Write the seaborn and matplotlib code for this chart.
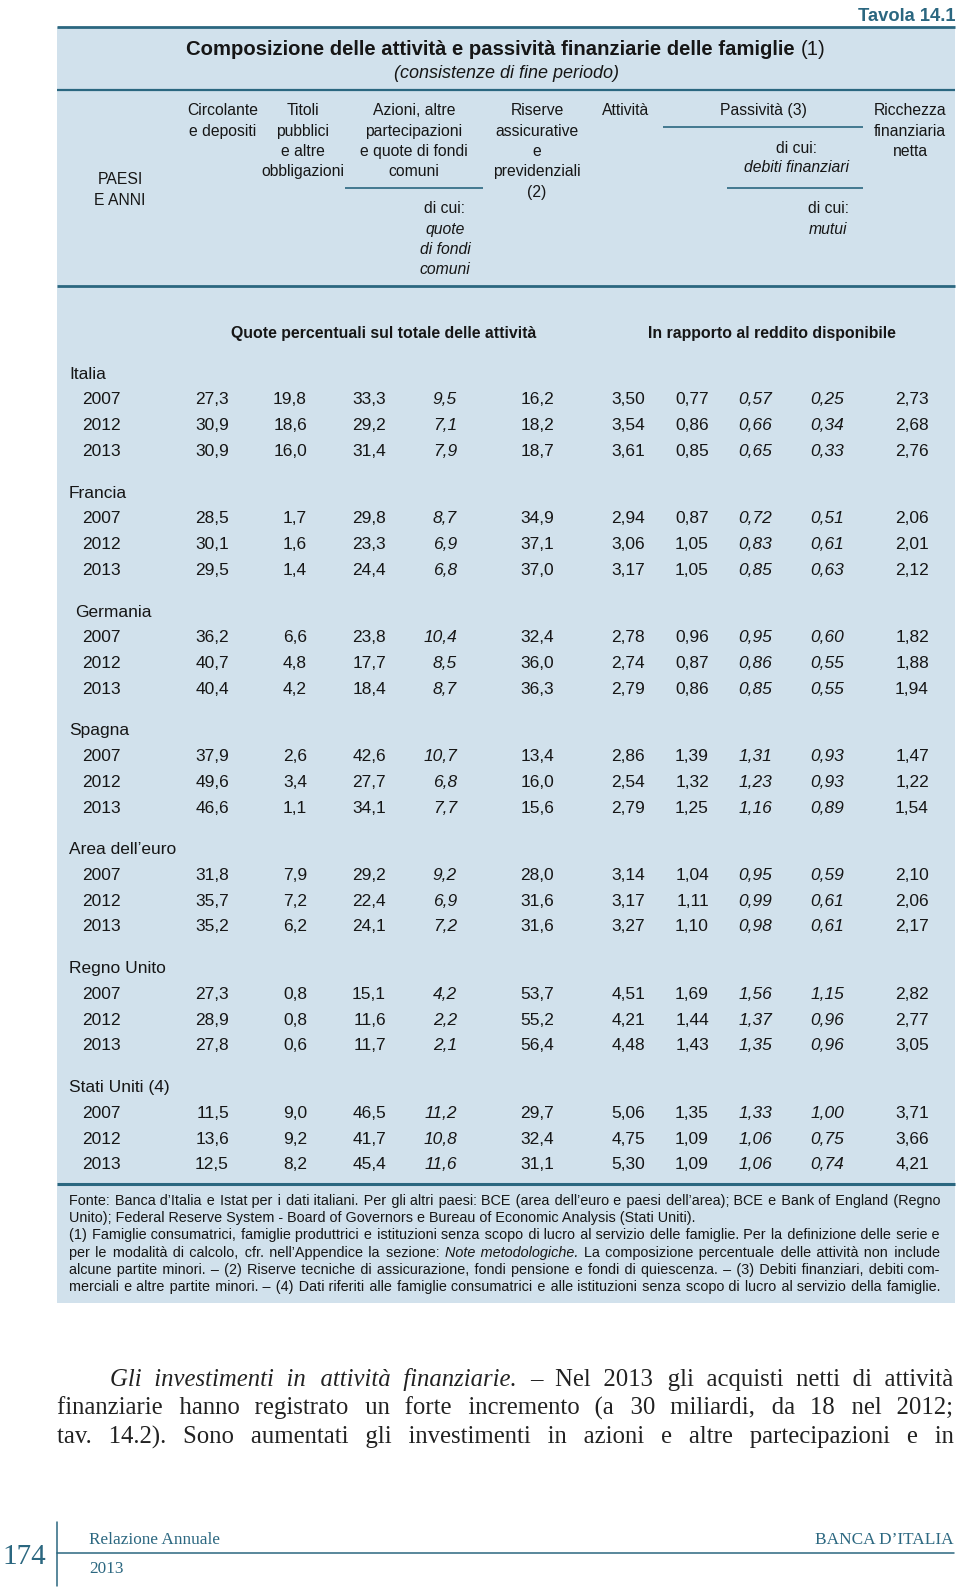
import matplotlib
matplotlib.use("Agg")
import matplotlib.pyplot as plt
from matplotlib import font_manager
from matplotlib.patches import Rectangle
import seaborn as sns
import pandas as pd

# ---- data ----
countries = ["Italia", "Francia", "Germania", "Spagna", "Area dell’euro", "Regno Unito", "Stati Uniti (4)"]
years = ["2007", "2012", "2013"]

circolante = [[27.3, 30.9, 30.9], [28.5, 30.1, 29.5], [36.2, 40.7, 40.4], [37.9, 49.6, 46.6],
              [31.8, 35.7, 35.2], [27.3, 28.9, 27.8], [11.5, 13.6, 12.5]]
titoli = [[19.8, 18.6, 16.0], [1.7, 1.6, 1.4], [6.6, 4.8, 4.2], [2.6, 3.4, 1.1],
          [7.9, 7.2, 6.2], [0.8, 0.8, 0.6], [9.0, 9.2, 8.2]]
azioni = [[33.3, 29.2, 31.4], [29.8, 23.3, 24.4], [23.8, 17.7, 18.4], [42.6, 27.7, 34.1],
          [29.2, 22.4, 24.1], [15.1, 11.6, 11.7], [46.5, 41.7, 45.4]]
quote_fondi = [[9.5, 7.1, 7.9], [8.7, 6.9, 6.8], [10.4, 8.5, 8.7], [10.7, 6.8, 7.7],
               [9.2, 6.9, 7.2], [4.2, 2.2, 2.1], [11.2, 10.8, 11.6]]
riserve = [[16.2, 18.2, 18.7], [34.9, 37.1, 37.0], [32.4, 36.0, 36.3], [13.4, 16.0, 15.6],
           [28.0, 31.6, 31.6], [53.7, 55.2, 56.4], [29.7, 32.4, 31.1]]
attivita = [[3.50, 3.54, 3.61], [2.94, 3.06, 3.17], [2.78, 2.74, 2.79], [2.86, 2.54, 2.79],
            [3.14, 3.17, 3.27], [4.51, 4.21, 4.48], [5.06, 4.75, 5.30]]
passivita = [[0.77, 0.86, 0.85], [0.87, 1.05, 1.05], [0.96, 0.87, 0.86], [1.39, 1.32, 1.25],
             [1.04, 1.11, 1.10], [1.69, 1.44, 1.43], [1.35, 1.09, 1.09]]
debiti = [[0.57, 0.66, 0.65], [0.72, 0.83, 0.85], [0.95, 0.86, 0.85], [1.31, 1.23, 1.16],
          [0.95, 0.99, 0.98], [1.56, 1.37, 1.35], [1.33, 1.06, 1.06]]
mutui = [[0.25, 0.34, 0.33], [0.51, 0.61, 0.63], [0.60, 0.55, 0.55], [0.93, 0.93, 0.89],
         [0.59, 0.61, 0.61], [1.15, 0.96, 0.96], [1.00, 0.75, 0.74]]
ricchezza = [[2.73, 2.68, 2.76], [2.06, 2.01, 2.12], [1.82, 1.88, 1.94], [1.47, 1.22, 1.54],
             [2.10, 2.06, 2.17], [2.82, 2.77, 3.05], [3.71, 3.66, 4.21]]

series = [("circolante", circolante, 1, False), ("titoli", titoli, 1, False),
          ("azioni", azioni, 1, False), ("quote_fondi", quote_fondi, 1, True),
          ("riserve", riserve, 1, False), ("attivita", attivita, 2, False),
          ("passivita", passivita, 2, False), ("debiti", debiti, 2, True),
          ("mutui", mutui, 2, True), ("ricchezza", ricchezza, 2, False)]

rows = []
for name, vals, dec, ital in series:
    for i, c in enumerate(countries):
        for j, y in enumerate(years):
            rows.append({"country": c, "year": y, "col": name, "value": vals[i][j],
                         "dec": dec, "italic": ital})
df = pd.DataFrame(rows)

# ---- style ----
sns.set_theme(style="white")
names = {f.name for f in font_manager.fontManager.ttflist}
SANS = ["Liberation Sans Narrow" if "Liberation Sans Narrow" in names else "Liberation Sans", "DejaVu Sans"]
SERIF = ["Liberation Serif", "DejaVu Serif"]
plt.rcParams["font.family"] = SANS

BG = "#d1e1ec"
TEAL = "#2b6780"
INK = "#161616"
HAIR = "\u200a"

fig = plt.figure(figsize=(9.6, 15.9), dpi=100)
ax = fig.add_axes([0, 0, 1, 1])
ax.set_xlim(0, 960)
ax.set_ylim(1590, 0)
ax.axis("off")
fig.canvas.draw()
renderer = fig.canvas.get_renderer()

PX = 100 / 72


def put(x, y, s, size=12.5, ha="left", weight="normal", style="normal", color=INK, family=None):
    ax.text(x, y + 0.36 * size * PX, s, ha=ha, va="baseline", fontsize=size,
            fontweight=weight, fontstyle=style, color=color, family=family or SANS)


def width(s, size, weight="normal", style="normal", family=None):
    t = ax.text(0, 0, s, fontsize=size, fontweight=weight, fontstyle=style, family=family or SANS)
    w = t.get_window_extent(renderer).width
    t.remove()
    return w


def line(runs, x0, x1, y, size, family=None, color=INK, mode="justify"):
    # one text per run; justified by padding the spaces with hair spaces
    family = family or SANS
    avail = x1 - x0

    def measure(sz):
        ws = [width(t, sz, wt, st, family) for t, wt, st in runs]
        sp = width("a a", sz, family=family) - width("aa", sz, family=family)
        return ws, sp, sum(ws) + sp * (len(runs) - 1)

    ws, sp, nat = measure(size)
    if mode == "center":
        x = (x0 + x1) / 2 - nat / 2
        for (t, wt, st), wd in zip(runs, ws):
            put(x, y, t, size=size, weight=wt, style=st, color=color, family=family)
            x += wd + sp
        return
    for _ in range(3):
        if nat <= avail:
            break
        size *= avail / nat * 0.999
        ws, sp, nat = measure(size)
    texts = [t for t, _, _ in runs]
    inter = 0.0
    if mode == "justify":
        hair = (width("a" + HAIR * 20 + "a", size, family=family) - width("aa", size, family=family)) / 20
        ngaps = sum(t.count(" ") for t in texts) + len(runs) - 1
        extra = (avail - nat) / max(ngaps, 1)
        inter = extra
        if hair > 0.05:
            acc = 0.0
            new = []
            for t in texts:
                parts = t.split(" ")
                out = parts[0]
                for p in parts[1:]:
                    acc += extra / hair
                    n = int(round(acc))
                    acc -= n
                    out += " " + HAIR * n + p
                new.append(out)
            texts = new
    x = x0
    for t, (_, wt, st) in zip(texts, runs):
        put(x, y, t, size=size, weight=wt, style=st, color=color, family=family)
        x += width(t, size, wt, st, family) + sp + inter


# ---- panel ----
ax.add_patch(Rectangle((57, 27), 898, 1276, facecolor=BG, edgecolor="none", zorder=0))
for y, lw in [(27, 2.0), (90, 1.6), (286, 2.0), (1184, 2.2)]:
    ax.plot([57, 955], [y, y], color=TEAL, lw=lw, solid_capstyle="butt")
for x0, x1, y in [(345, 483, 188), (663, 863, 127), (727, 863, 188)]:
    ax.plot([x0, x1], [y, y], color=TEAL, lw=1.2, solid_capstyle="butt")

put(955, 14, "Tavola 14.1", size=13.2, ha="right", weight="bold", color=TEAL)
line([("Composizione delle attività e passività finanziarie delle famiglie", "bold", "normal"),
      ("(1)", "normal", "normal")], 57, 955, 48, 14.6, mode="center")
put(506, 71, "(consistenze di fine periodo)", size=13, ha="center", style="italic")

# ---- column headers ----
HS = 11.3
hy = [109, 130, 150, 170, 191, 207, 228, 248, 268]
headers = [
    (223, ["Circolante", "e depositi"]),
    (303, ["Titoli", "pubblici", "e altre", "obbligazioni"]),
    (414, ["Azioni, altre", "partecipazioni", "e quote di fondi", "comuni"]),
    (537, ["Riserve", "assicurative", "e", "previdenziali", "(2)"]),
    (626, ["Attività"]),
    (763, ["Passività (3)"]),
    (910, ["Ricchezza", "finanziaria", "netta"]),
]
for x, lines in headers:
    for k, s in enumerate(lines):
        put(x, hy[k], s, size=HS, ha="center")
put(445, 207, "di cui:", size=HS, ha="center")
for k, s in enumerate(["quote", "di fondi", "comuni"]):
    put(445, hy[6 + k], s, size=HS, ha="center", style="italic")
put(796, 147, "di cui:", size=HS, ha="center")
put(796, 166, "debiti finanziari", size=HS, ha="center", style="italic")
put(828, 207, "di cui:", size=HS, ha="center")
put(828, 228, "mutui", size=HS, ha="center", style="italic")
put(120, 178, "PAESI", size=HS, ha="center")
put(120, 199, "E ANNI", size=HS, ha="center")

put(384, 332, "Quote percentuali sul totale delle attività", size=11.4, ha="center", weight="bold")
put(772, 332, "In rapporto al reddito disponibile", size=11.4, ha="center", weight="bold")

# ---- body of table ----
col_right = dict(zip([s[0] for s in series], [229, 307, 386, 457, 554, 645, 709, 772, 844, 929]))
label_x = {"Germania": 75}
g0, gstep, rstep = 372.5, 118.9, 25.7
for i, c in enumerate(countries):
    gy = g0 + i * gstep
    put(label_x.get(c, 69), gy, c)
    for j, yr in enumerate(years):
        put(82, gy + rstep * (j + 1), yr)
for _, r in df.iterrows():
    i = countries.index(r["country"])
    j = years.index(r["year"])
    y = g0 + i * gstep + rstep * (j + 1)
    txt = f"{r['value']:.{r['dec']}f}".replace(".", ",")
    put(col_right[r["col"]], y, txt, ha="right", style="italic" if r["italic"] else "normal")

# ---- notes ----
N = "normal"
notes = [
    ([("Fonte: Banca d’Italia e Istat per i dati italiani. Per gli altri paesi: BCE (area dell’euro e paesi dell’area); BCE e Bank of England (Regno", N, N)], "justify"),
    ([("Unito); Federal Reserve System - Board of Governors e Bureau of Economic Analysis (Stati Uniti).", N, N)], "left"),
    ([("(1) Famiglie consumatrici, famiglie produttrici e istituzioni senza scopo di lucro al servizio delle famiglie. Per la definizione delle serie e", N, N)], "justify"),
    ([("per le modalità di calcolo, cfr. nell’Appendice la sezione:", N, N), ("Note metodologiche.", N, "italic"),
      ("La composizione percentuale delle attività non include", N, N)], "justify"),
    ([("alcune partite minori. – (2) Riserve tecniche di assicurazione, fondi pensione e fondi di quiescenza. – (3) Debiti finanziari, debiti com-", N, N)], "justify"),
    ([("merciali e altre partite minori. – (4) Dati riferiti alle famiglie consumatrici e alle istituzioni senza scopo di lucro al servizio della famiglie.", N, N)], "justify"),
]
for k, (runs, mode) in enumerate(notes):
    line(runs, 69, 940, 1200 + k * 17.1, 10.4, mode=mode)

# ---- running text ----
body = [
    ([("Gli investimenti in attività finanziarie.", N, "italic"),
      ("– Nel 2013 gli acquisti netti di attività", N, N)], 110),
    ([("finanziarie hanno registrato un forte incremento (a 30 miliardi, da 18 nel 2012;", N, N)], 57),
    ([("tav. 14.2). Sono aumentati gli investimenti in azioni e altre partecipazioni e in", N, N)], 57),
]
for k, (runs, x0) in enumerate(body):
    line(runs, x0, 954, 1377 + k * 28.7, 17.8, family=SERIF, color="#222222")

# ---- page footer ----
ax.plot([57, 57], [1522, 1586], color=TEAL, lw=1.1)
ax.plot([57, 954], [1553, 1553], color=TEAL, lw=1.1)
put(24, 1554, "174", size=21, ha="center", color=TEAL, family=SERIF)
put(89, 1538, "Relazione Annuale", size=12.4, color=TEAL, family=SERIF)
put(89, 1567, "2013", size=12.4, color=TEAL, family=SERIF)
put(954, 1538, "BANCA D’ITALIA", size=12.4, ha="right", color=TEAL, family=SERIF)

fig.savefig("out.png", dpi=100, facecolor="white")
